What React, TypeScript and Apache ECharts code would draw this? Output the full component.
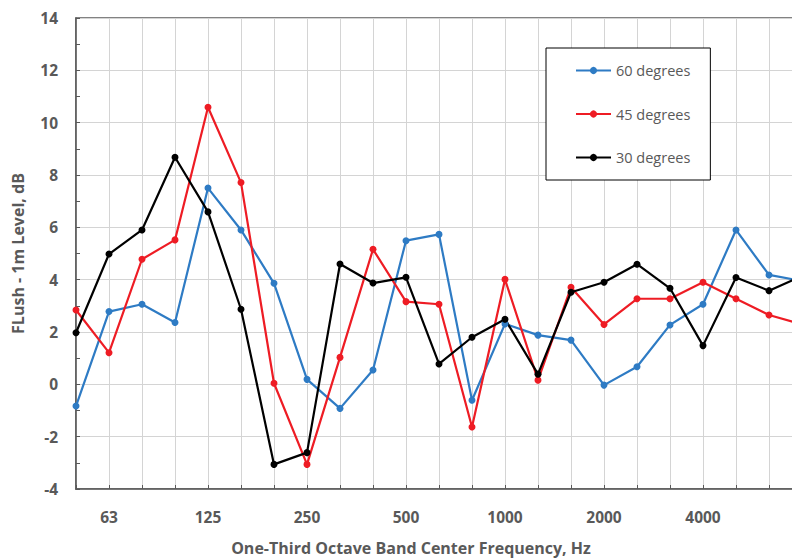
import React, { useEffect, useRef } from "react";
import * as echarts from "echarts";

const categories = ["50", "63", "80", "100", "125", "160", "200", "250", "315", "400", "500", "630", "800", "1000", "1250", "1600", "2000", "2500", "3150", "4000", "5000", "6300", "8000"];
const deg60 = [-0.83, 2.78, 3.06, 2.36, 7.5, 5.9, 3.86, 0.19, -0.92, 0.55, 5.49, 5.73, -0.61, 2.31, 1.88, 1.69, -0.03, 0.67, 2.27, 3.06, 5.9, 4.18, 3.95];
const deg45 = [2.84, 1.21, 4.78, 5.52, 10.59, 7.71, 0.04, -3.06, 1.03, 5.16, 3.16, 3.06, -1.63, 4.01, 0.16, 3.71, 2.29, 3.27, 3.27, 3.9, 3.27, 2.65, 2.29];
const deg30 = [1.97, 4.98, 5.9, 8.68, 6.59, 2.87, -3.06, -2.61, 4.6, 3.87, 4.09, 0.78, 1.8, 2.49, 0.39, 3.52, 3.9, 4.59, 3.67, 1.48, 4.08, 3.58, 4.14];
const labelIndices = [1, 4, 7, 10, 13, 16, 19];
const xTitle = "One-Third Octave Band Center Frequency, Hz";
const yTitle = "FLush - 1m Level, dB";

const FONT = "Open Sans";
const GRAY = "#595959";

export default function App() {
  const ref = useRef<HTMLDivElement>(null);
  useEffect(() => {
    if (!ref.current) return;
    const chart = echarts.init(ref.current, undefined, { renderer: "svg" });
    const mk = (name: string, data: number[], color: string) => ({
      name,
      type: "line",
      data,
      symbol: "circle",
      symbolSize: 7,
      lineStyle: { color, width: 2.2 },
      itemStyle: { color },
      z: 3,
    });
    chart.setOption({
      animation: false,
      backgroundColor: "#fff",
      grid: {
        left: 76,
        top: 18,
        bottom: 69,
        right: 10,
        show: true,
        borderColor: GRAY,
        borderWidth: 1.5,
      },
      legend: {
        orient: "vertical",
        left: 546,
        top: 48,
        padding: [15, 20, 15, 29],
        itemGap: 28.5,
        itemWidth: 35,
        itemHeight: 9,
        backgroundColor: "#fff",
        borderColor: "#000",
        borderWidth: 1,
        textStyle: { fontFamily: FONT, fontSize: 14.5, color: GRAY, lineHeight: 14 },
        data: ["60 degrees", "45 degrees", "30 degrees"],
      },
      graphic: [
        {
          type: "text",
          x: 411,
          y: 548,
          style: {
            text: xTitle,
            textAlign: "center",
            textVerticalAlign: "middle",
            fontFamily: FONT,
            fontSize: 16,
            fontWeight: "bold",
            fill: GRAY,
          },
        },
      ],
      xAxis: {
        type: "category",
        data: categories,
        boundaryGap: false,
        axisLine: { onZero: false, lineStyle: { color: GRAY, width: 1.5 } },
        axisTick: { show: true, inside: true, length: 4, interval: 0, lineStyle: { color: GRAY } },
        axisLabel: {
          interval: (i: number) => labelIndices.includes(i),
          margin: 20,
          fontFamily: FONT,
          fontSize: 15.5,
          fontWeight: "bold",
          color: GRAY,
        },
        splitLine: { show: true, interval: 0, lineStyle: { color: "#d4d4d4", width: 1 } },
      },
      yAxis: {
        type: "value",
        min: -4,
        max: 14,
        interval: 2,
        name: yTitle,
        nameLocation: "middle",
        nameGap: 50,
        nameTextStyle: { fontFamily: FONT, fontSize: 16, fontWeight: "bold", color: GRAY },
        axisLine: { show: true, lineStyle: { color: GRAY, width: 1.5 } },
        axisTick: { show: true, inside: true, length: 4, lineStyle: { color: GRAY } },
        minorTick: { show: true, splitNumber: 2, length: 4, lineStyle: { color: GRAY } },
        axisLabel: { margin: 18, fontFamily: FONT, fontSize: 15.5, fontWeight: "bold", color: GRAY },
        splitLine: { show: true, lineStyle: { color: "#d4d4d4", width: 1 } },
      },
      series: [
        mk("60 degrees", deg60, "#2E7BC4"),
        mk("45 degrees", deg45, "#EE1C24"),
        mk("30 degrees", deg30, "#000000"),
      ],
    });
    return () => chart.dispose();
  }, []);
  return <div ref={ref} style={{ width: 812, height: 558, position: "fixed", left: 0, top: 0 }} />;
}
